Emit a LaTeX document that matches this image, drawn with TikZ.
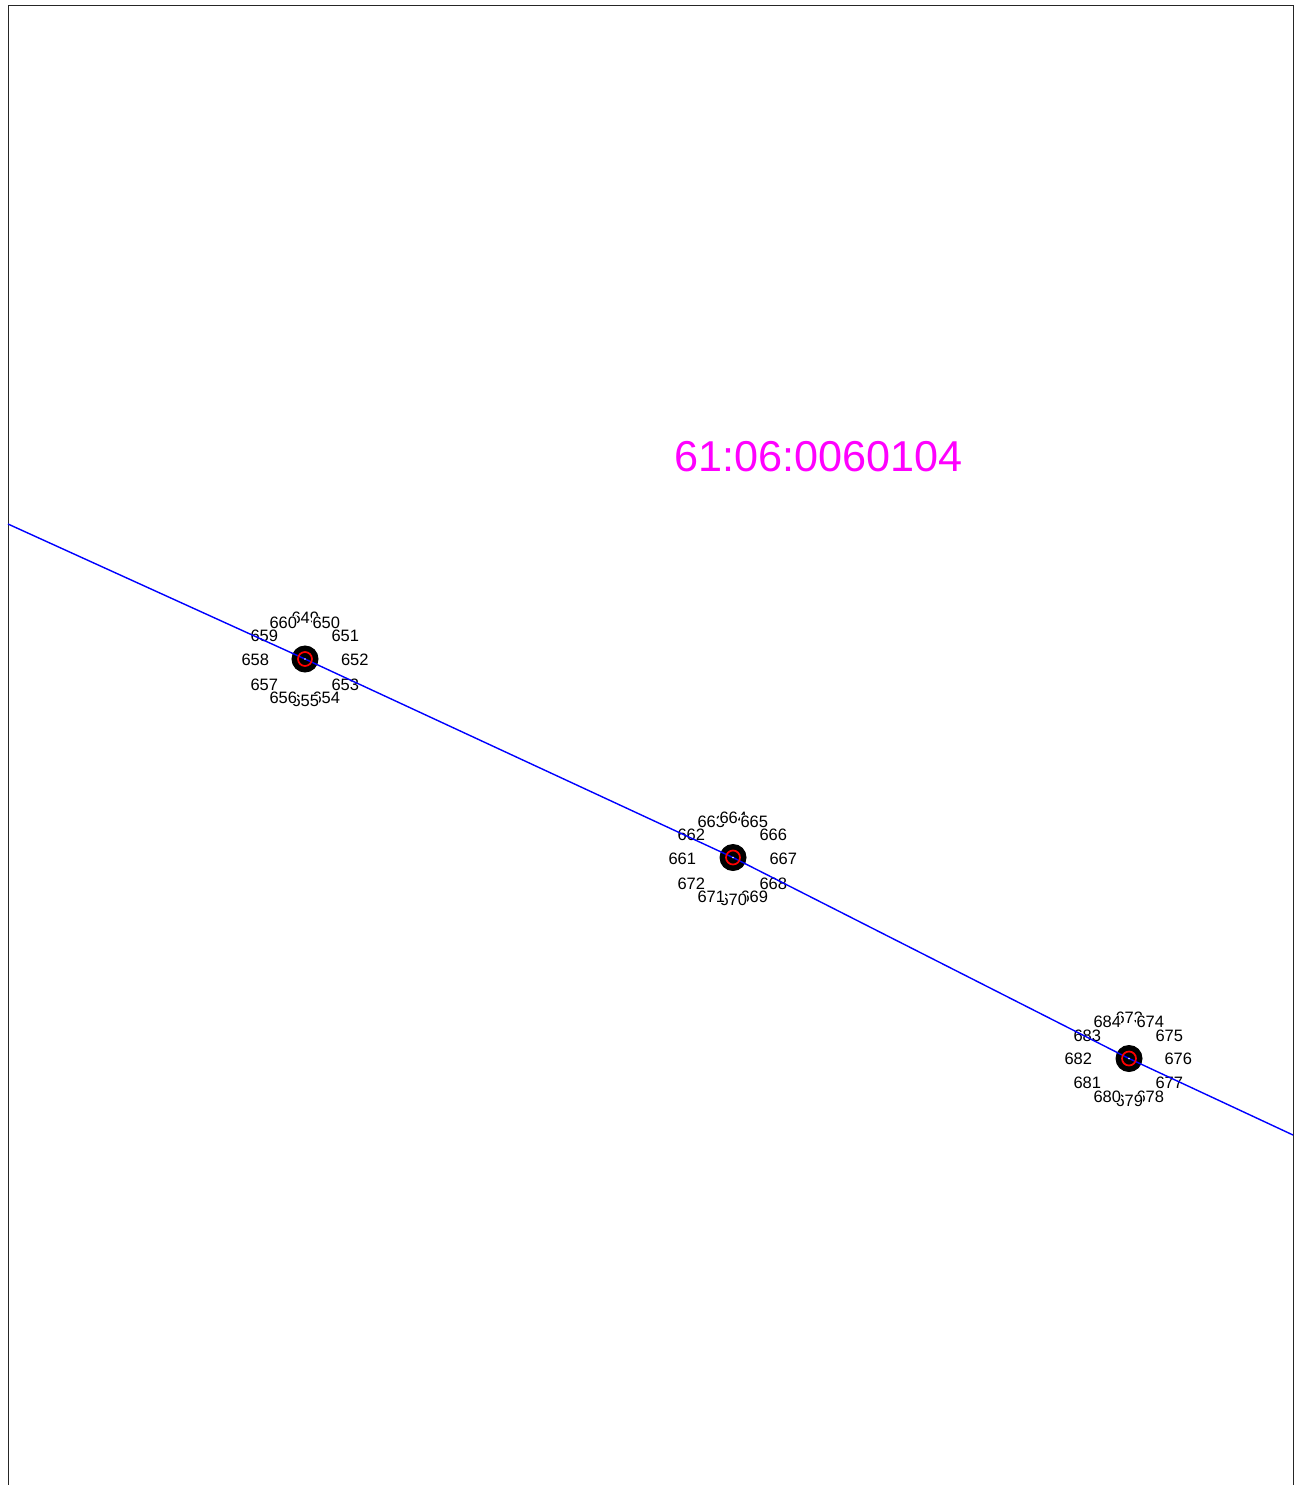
\documentclass[tikz,border=0pt]{standalone}
\usepackage{fontspec}
\setmainfont{Liberation Sans}
\definecolor{titlemag}{RGB}{255,0,255}
\tikzset{
  x=1pt,y=-1pt,
  frameline/.style={draw=black!85,line width=1pt},
  lbl/.style={fill=white,inner xsep=0.2pt,inner ysep=0.9pt,text=black,font=\fontsize{16.5}{17}\selectfont,text height=11.5pt,text depth=0pt},
  route/.style={draw=blue,line width=1.4pt},
  outerdot/.style={circle,draw=black,fill=black,line width=1pt,minimum size=26pt,inner sep=0pt},
  reddot/.style={circle,draw=red,line width=1.7pt,minimum size=14pt,inner sep=0pt},
  centredot/.style={circle,fill=white,minimum size=1.6pt,inner sep=0pt},
  titletext/.style={text=titlemag,font=\fontsize{43.2}{46}\selectfont,inner sep=0pt}
}
\begin{document}
\begin{tikzpicture}
\useasboundingbox (0,0) rectangle (1300,1485);
\fill[white] (0,0) rectangle (1300,1485);
\draw[frameline] (8,1485) -- (8,5.5) -- (1293,5.5) -- (1293,1485);
\begin{scope}[shift={(0.3,0.5)}]
\foreach \px/\py/\t in {
305/617/649,326/622/650,345/635/651,354.5/659/652,345/684/653,326/697/654,305/700/655,283/697/656,264/684/657,255/659/658,264/635/659,283/622/660,
682/858/661,691/834/662,711/821/663,733/817/664,754/821/665,773/834/666,783/858/667,773/883/668,754/896/669,733/899/670,711/896/671,691/883/672,
1129/1017/673,1150/1021/674,1169/1035/675,1178/1058/676,1169/1082/677,1150/1096/678,1129/1100/679,1107/1096/680,1087/1082/681,1078/1058/682,1087/1035/683,1107/1021/684}
  {\node[lbl] (l\t) at (\px,\py) {\t};}
\end{scope}
\node[titletext] (title) at (818.7,457) {61:06:0060104};
\node[outerdot] (p1) at (305,659) {};
\node[outerdot] (p2) at (733,857.5) {};
\node[outerdot] (p3) at (1129,1058.5) {};
\coordinate (west) at (8,524);
\coordinate (east) at (1293,1135);
\draw[route] (west) -- (p1.center) -- (p2.center) -- (p3.center) -- (east);
\node[reddot] (r1) at (p1) {};
\node[reddot] (r2) at (p2) {};
\node[reddot] (r3) at (p3) {};
\node[centredot] (c1) at (p1) {};
\node[centredot] (c2) at (p2) {};
\node[centredot] (c3) at (p3) {};
\end{tikzpicture}
\end{document}
